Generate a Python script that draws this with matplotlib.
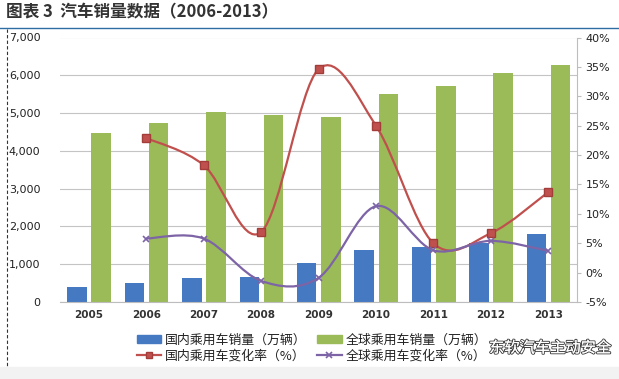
import numpy as np
import matplotlib
matplotlib.use("Agg")
from matplotlib import pyplot as plt
from matplotlib.path import Path
from matplotlib.patches import PathPatch, Patch
from matplotlib.lines import Line2D
import matplotlib.patheffects as pe
from matplotlib.ticker import FuncFormatter

plt.rcParams['font.family'] = ['Noto Sans CJK SC', 'DejaVu Sans']

# data
years = ['2005', '2006', '2007', '2008', '2009', '2010', '2011', '2012', '2013']
domestic_sales = [390, 510, 635, 670, 1023, 1376, 1447, 1553, 1791]
global_sales = [4465, 4743, 5034, 4947, 4903, 5503, 5722, 6050, 6262]
domestic_rate = [None, 22.9, 18.3, 6.9, 34.6, 25.0, 5.0, 6.7, 13.7]
global_rate = [None, 5.8, 5.8, -1.4, -0.9, 11.3, 3.8, 5.4, 3.7]

labels = ['国内乘用车销量（万辆）', '全球乘用车销量（万辆）',
          '国内乘用车变化率（%）', '全球乘用车变化率（%）']

blue = '#4579C2'
green = '#9BBB59'
red = '#C0504D'
purple = '#7D64A6'


def smooth_path(xs, ys):
    # Excel-like smoothed line: Catmull-Rom segments as cubic beziers
    pts = np.column_stack([xs, ys]).astype(float)
    verts = [pts[0]]
    codes = [Path.MOVETO]
    n = len(pts)
    for i in range(n - 1):
        p0 = pts[i - 1] if i > 0 else pts[i]
        p1 = pts[i]
        p2 = pts[i + 1]
        p3 = pts[i + 2] if i + 2 < n else pts[i + 1]
        c1 = p1 + (p2 - p0) / 6.0
        c2 = p2 - (p3 - p1) / 6.0
        verts += [c1, c2, p2]
        codes += [Path.CURVE4] * 3
    return Path(verts, codes)


fig = plt.figure(figsize=(6.19, 3.79), dpi=100)
ax = fig.add_axes([60 / 619, 1 - 302 / 379, 517 / 619, (302 - 37.5) / 379])

x = np.arange(len(years))
w = 0.34
ax.bar(x - 0.205, domestic_sales, w, color=blue, zorder=2)
ax.bar(x + 0.215, global_sales, w, color=green, zorder=2)

ax.set_xlim(-0.5, len(years) - 0.5)
ax.set_ylim(0, 7000)
ax.set_yticks(range(0, 7001, 1000))
ax.yaxis.set_major_formatter(FuncFormatter(lambda v, p: f'{int(v):,}'))
ax.grid(axis='y', color='#C4C4C4', lw=0.8, zorder=0)
ax.set_axisbelow(True)
ax.set_xticks(x)
ax.set_xticklabels(years, fontsize=7.5, fontweight='bold', color='#333333',
                   family='DejaVu Sans')
ax.tick_params(axis='x', length=0, pad=6)
ax.tick_params(axis='y', length=0, pad=14, labelsize=8, labelcolor='#222222')
for lab in ax.get_yticklabels():
    lab.set_family('DejaVu Sans')
for s in ['left', 'top', 'right']:
    ax.spines[s].set_visible(False)
ax.spines['bottom'].set_color('#BDBDBD')

ax2 = ax.twinx()
ax2.set_ylim(-5, 40)
ax2.set_yticks(range(-5, 41, 5))
ax2.yaxis.set_major_formatter(FuncFormatter(lambda v, p: f'{int(v)}%'))
ax2.tick_params(axis='y', length=3, color='#BDBDBD', pad=3, labelsize=8,
                labelcolor='#222222')
for lab in ax2.get_yticklabels():
    lab.set_family('DejaVu Sans')
for s in ['left', 'top', 'bottom']:
    ax2.spines[s].set_visible(False)
ax2.spines['right'].set_color('#BDBDBD')

xr = x[1:]
dr = np.array(domestic_rate[1:], dtype=float)
gr = np.array(global_rate[1:], dtype=float)
ax2.add_patch(PathPatch(smooth_path(xr, dr), fill=False, ec=red, lw=1.6, zorder=4))
ax2.add_patch(PathPatch(smooth_path(xr, gr), fill=False, ec=purple, lw=1.6, zorder=4))
ax2.plot(xr, dr, ls='none', marker='s', ms=6, mfc=red, mec='#A33D3A', zorder=5)
ax2.plot(xr, gr, ls='none', marker='x', ms=5, mew=1.2, color=purple, zorder=5)

handles = [Patch(color=blue),
           Line2D([], [], color=red, lw=1.6, marker='s', ms=5, mfc=red, mec='#A33D3A'),
           Patch(color=green),
           Line2D([], [], color=purple, lw=1.6, marker='x', ms=5, mew=1.2)]
leg_labels = [labels[0], labels[2], labels[1], labels[3]]
fig.legend(handles, leg_labels, ncol=2, loc='center', bbox_to_anchor=(312 / 619, 1 - 348 / 379),
           frameon=False, fontsize=9.3, handlelength=1.9, handleheight=0.5,
           handletextpad=0.3, columnspacing=0.8, labelspacing=0.2,
           labelcolor='#222222')

# page decorations
fig.text(6 / 619, 1 - 12 / 379, '图表 3  汽车销量数据（2006-2013）', fontsize=12,
         fontweight='bold', color='#333333', va='center', ha='left')
fig.add_artist(Line2D([0, 1], [1 - 28 / 379, 1 - 28 / 379], color='#2E6DA4', lw=1.0))
fig.add_artist(Line2D([7 / 619, 7 / 619], [1 - 29 / 379, 1 - 366 / 379], color='#333333',
                      lw=0.8, ls=(0, (3, 2))))
fig.add_artist(plt.Rectangle((0, 0), 1, 12 / 379, color='#F2F2F2', transform=fig.transFigure,
                             zorder=0))
wm = fig.text(611 / 619, 1 - 348 / 379, '东软汽车主动安全', fontsize=11, color='white',
              ha='right', va='center', zorder=10)
wm.set_path_effects([pe.withStroke(linewidth=1.5, foreground='#444444'), pe.Normal()])

fig.savefig('out.png', dpi=100)
